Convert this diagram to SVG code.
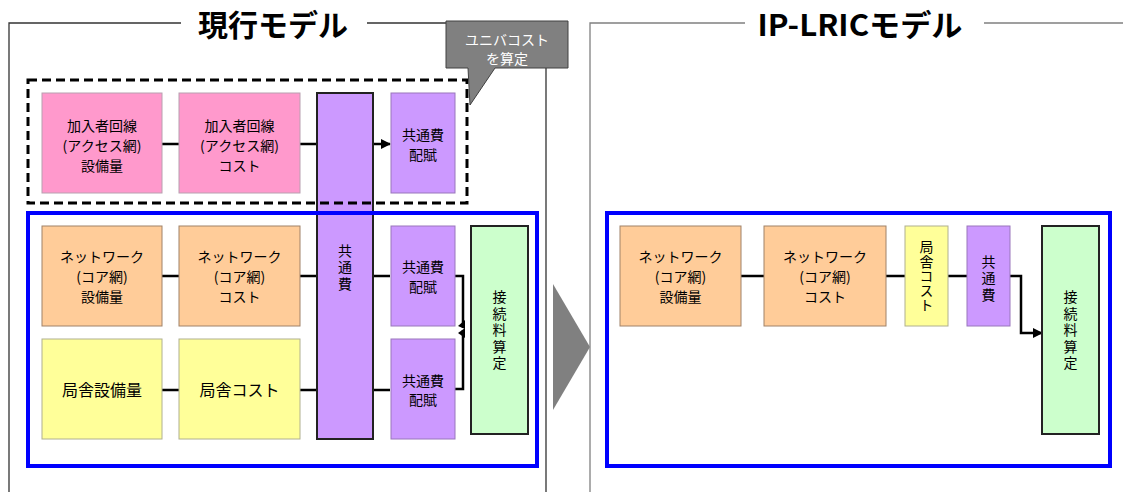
<svg xmlns="http://www.w3.org/2000/svg" width="1123" height="492" viewBox="0 0 1123 492">
<style>
text{font-family:"Noto Sans CJK JP","Noto Sans",sans-serif;font-size:14px;fill:#000;text-anchor:middle}
.v{writing-mode:vertical-rl;letter-spacing:2.5px}
.big{font-size:16px}
.title{font-size:30px;font-weight:bold}
.frame{fill:none;stroke:#333;stroke-width:1.3}
.frame2{fill:none;stroke:#808080;stroke-width:1.3}
.pink{fill:#FF99CC;stroke:#B8A0B0;stroke-width:1}
.orange{fill:#FFCC99;stroke:#A08268;stroke-width:1}
.yellow{fill:#FFFF99;stroke:#B0B090;stroke-width:1}
.purple{fill:#CC99FF;stroke:#9977BB;stroke-width:1}
.purpleT{fill:#CC99FF;stroke:#222;stroke-width:2}
.green{fill:#CCFFCC;stroke:#222;stroke-width:2}
.conn{fill:none;stroke:#000;stroke-width:2.5}
.blue{fill:none;stroke:#0000FF;stroke-width:4}
.dash{fill:none;stroke:#000;stroke-width:3;stroke-dasharray:9 5}
.call{fill:#808080;stroke:#404040;stroke-width:1}
.wt{fill:#fff;font-size:14px}
</style>
<defs>
<marker id="arr" markerUnits="userSpaceOnUse" markerWidth="10" markerHeight="10" refX="9" refY="5" orient="auto">
<path d="M0,0 L10,5 L0,10 Z" fill="#000"/>
</marker>
</defs>

<g id="frames">
<path class="frame" d="M9,492 V23 H181 M367,23 H546 V492"/>
<path class="frame2" d="M590,492 V23 H745 M984,23 H1123"/>
<text class="title" x="273" y="36">現行モデル</text>
<text class="title" x="860" y="36" textLength="205" lengthAdjust="spacingAndGlyphs">IP-LRICモデル</text>
<polygon points="553,284 590,347 553,410" fill="#808080"/>
</g>

<g id="connectors">
<path class="conn" d="M162,144 H179 M300,144 H317"/>
<path class="conn" d="M374,144 H390" marker-end="url(#arr)"/>
<path class="conn" d="M162,276 H179 M300,276 H317 M373,276 H390"/>
<path class="conn" d="M162,390 H179 M300,390 H317 M373,390 H390"/>
<path class="conn" d="M455,276 H463 V328"/>
<path class="conn" d="M455,389 H463 V330"/>
<polygon points="458,326 465,320 465,329" fill="#000"/>
<polygon points="458,333 465,328 465,338" fill="#000"/>
<path class="conn" d="M741,276 H764 M886,276 H905 M948,276 H967"/>
<path class="conn" d="M1010,276 H1021 V333 H1042" marker-end="url(#arr)"/>
</g>

<g id="n-pink1"><rect class="pink" x="42" y="93" width="120" height="100"/>
<text x="102" y="131">加入者回線</text><text x="102" y="151">(アクセス網)</text><text x="102" y="171">設備量</text></g>
<g id="n-pink2"><rect class="pink" x="179" y="93" width="121" height="100"/>
<text x="239.5" y="131">加入者回線</text><text x="239.5" y="151">(アクセス網)</text><text x="239.5" y="171">コスト</text></g>
<g id="n-common-tall"><rect class="purpleT" x="317" y="93" width="56" height="346"/>
<text class="v" x="345" y="268">共通費</text></g>
<g id="n-alloc1"><rect class="purple" x="391" y="93" width="64" height="100"/>
<text x="423" y="140">共通費</text><text x="423" y="160">配賦</text></g>

<g id="n-net1"><rect class="orange" x="42" y="226" width="120" height="100"/>
<text x="102" y="262">ネットワーク</text><text x="102" y="282">(コア網)</text><text x="102" y="302">設備量</text></g>
<g id="n-net2"><rect class="orange" x="179" y="226" width="121" height="100"/>
<text x="239.5" y="262">ネットワーク</text><text x="239.5" y="282">(コア網)</text><text x="239.5" y="302">コスト</text></g>
<g id="n-bldg1"><rect class="yellow" x="42" y="339" width="120" height="100"/>
<text class="big" x="102" y="396">局舎設備量</text></g>
<g id="n-bldg2"><rect class="yellow" x="179" y="339" width="121" height="100"/>
<text class="big" x="239.5" y="396">局舎コスト</text></g>
<g id="n-alloc2"><rect class="purple" x="391" y="226" width="64" height="100"/>
<text x="423" y="272">共通費</text><text x="423" y="292">配賦</text></g>
<g id="n-alloc3"><rect class="purple" x="391" y="339" width="64" height="100"/>
<text x="423" y="386">共通費</text><text x="423" y="405">配賦</text></g>
<g id="n-rate-left"><rect class="green" x="471" y="226" width="57" height="208"/>
<text class="v" x="499.5" y="331">接続料算定</text></g>

<g id="containers">
<rect class="dash" x="28" y="80" width="439" height="123"/>
<rect class="blue" x="28" y="213" width="509" height="253"/>
<rect class="blue" x="607" y="213" width="503" height="253"/>
</g>

<g id="n-callout">
<path class="call" d="M446,21 H568 V68 H495 L470,105 L468,68 H446 Z"/>
<text class="wt" x="507" y="45">ユニバコスト</text>
<text class="wt" x="507" y="64">を算定</text>
</g>

<g id="n-net1-ip"><rect class="orange" x="620" y="226" width="121" height="100"/>
<text x="680.5" y="262">ネットワーク</text><text x="680.5" y="282">(コア網)</text><text x="680.5" y="302">設備量</text></g>
<g id="n-net2-ip"><rect class="orange" x="764" y="226" width="122" height="100"/>
<text x="825" y="262">ネットワーク</text><text x="825" y="282">(コア網)</text><text x="825" y="302">コスト</text></g>
<g id="n-bldg-ip"><rect class="yellow" x="905" y="226" width="43" height="100"/>
<text class="v" x="926.5" y="276" style="letter-spacing:0.5px">局舎コスト</text></g>
<g id="n-common-ip"><rect class="purple" x="967" y="226" width="43" height="100"/>
<text class="v" x="988.5" y="279">共通費</text></g>
<g id="n-rate-ip"><rect class="green" x="1042" y="226" width="57" height="208"/>
<text class="v" x="1070.5" y="331">接続料算定</text></g>
</svg>
